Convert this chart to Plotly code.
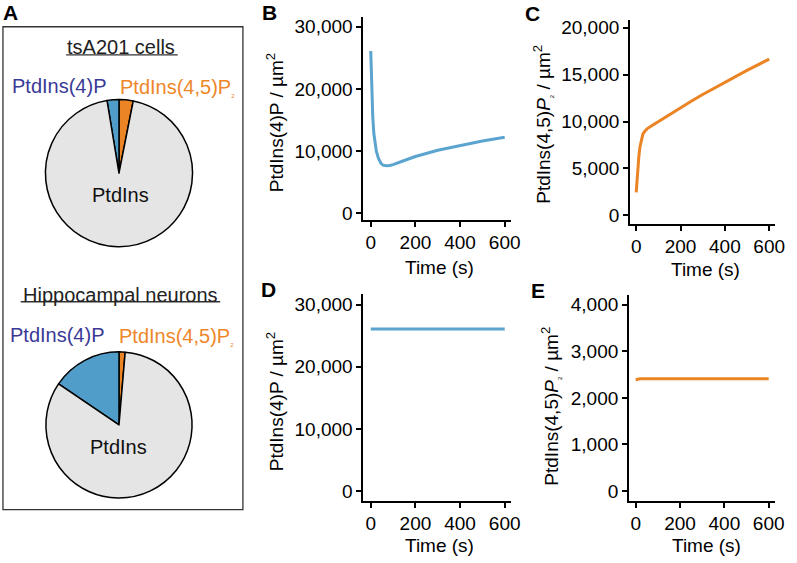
import plotly.graph_objects as go

W, H = 797, 563

# ---------------- data ----------------
pie_labels = ["PtdIns(4,5)P2", "PtdIns(4)P", "PtdIns"]
pie_tsa201 = [3.1, 2.6, 94.3]
pie_neurons = [1.35, 15.5, 83.15]

t_B = [0, 2, 5, 9, 14, 19, 25, 34, 45, 55, 70, 85, 100, 150, 200, 300, 400, 500, 600]
pi4p_tsa = [26100, 22500, 18500, 15500, 12800, 11200, 10000, 8900, 8100, 7750, 7650, 7700,
            7850, 8500, 9150, 10150, 10950, 11650, 12250]

t_C = [0, 3, 7.5, 12, 17, 22, 30, 40, 50, 70, 100, 150, 200, 250, 300, 400, 500, 600]
pip2_tsa = [2450, 3600, 4800, 6300, 7300, 8000, 8650, 9000, 9250, 9550, 10000, 10750,
            11480, 12190, 12880, 14200, 15450, 16650]

t_D = [0, 600]
pi4p_neu = [26100, 26100]

t_E = [0, 20, 600]
pip2_neu = [2390, 2410, 2410]

x_ticks = [0, 200, 400, 600]
yticks_B = [0, 10000, 20000, 30000]
yticks_C = [0, 5000, 10000, 15000, 20000]
yticks_D = [0, 10000, 20000, 30000]
yticks_E = [0, 1000, 2000, 3000, 4000]

BLUE = "#5AA4CF"
ORANGE = "#EB8424"
PIE_BLUE = "#519DC9"
PIE_GRAY = "#E5E5E5"
LBL_BLUE = "#3A3A96"
LBL_ORANGE = "#EE8729"
FONT = "Liberation Sans, Arial, Helvetica, sans-serif"


def fx(x):
    return x / W


def fy(y):
    return 1 - y / H


fig = go.Figure()

# ---------------- pies ----------------
for vals, (cx, cy, r) in [(pie_tsa201, (120.5, 173, 74.5)), (pie_neurons, (120.5, 427.5, 74))]:
    fig.add_trace(go.Pie(
        labels=pie_labels, values=vals, sort=False, direction="counterclockwise", rotation=0,
        textinfo="none", hoverinfo="label+percent",
        marker=dict(colors=[ORANGE, PIE_BLUE, PIE_GRAY], line=dict(color="black", width=1.5)),
        domain=dict(x=[fx(cx - r), fx(cx + r)], y=[fy(cy + r), fy(cy - r)]),
        showlegend=False,
    ))

# ---------------- line panels ----------------
panels = [
    ("", t_B, pi4p_tsa, BLUE, (368, 517), (15, 220), [-33, 626], [-1000, 31590], yticks_B),
    ("2", t_C, pip2_tsa, ORANGE, (638, 785), (18, 224), [-28, 627], [-875, 20843], yticks_C),
    ("3", t_D, pi4p_neu, BLUE, (368, 517), (295, 504), [-33, 626], [-1545, 31750], yticks_D),
    ("4", t_E, pip2_neu, ORANGE, (637, 785), (296, 504), [-30, 629], [-206, 4212], yticks_E),
]

layout_axes = {}
for name, t, v, col, xd, yd, xr, yr, yt in panels:
    fig.add_trace(go.Scatter(x=t, y=v, mode="lines", line=dict(color=col, width=3),
                             xaxis="x" + name, yaxis="y" + name, showlegend=False))
    common = dict(showline=True, linecolor="black", linewidth=1.8, ticks="outside",
                  ticklen=5, tickwidth=1.5, tickcolor="black", showgrid=False,
                  zeroline=False, tickfont=dict(family=FONT, size=19, color="black"))
    layout_axes["xaxis" + name] = dict(domain=[fx(xd[0]), fx(xd[1])], range=xr,
                                       tickvals=x_ticks, anchor="y" + name, **common)
    layout_axes["yaxis" + name] = dict(domain=[fy(yd[1]), fy(yd[0])], range=yr,
                                       tickvals=yt, tickformat=",d", anchor="x" + name,
                                       **common)

fig.update_layout(**layout_axes)

# ---------------- annotations ----------------
ann = []


def add_text(text, x, y, size=20, color="black", xanchor="center", yanchor="middle",
             angle=0, bold=False):
    ann.append(dict(text=("<b>%s</b>" % text) if bold else text, x=fx(x), y=fy(y),
                    xref="paper", yref="paper", showarrow=False, xanchor=xanchor,
                    yanchor=yanchor, textangle=angle,
                    font=dict(family=FONT, size=size, color=color)))


SUB2 = "<sub><span style='font-size:6px'>2</span></sub>"

# panel letters
for L, x, y in [("A", 11, 11), ("B", 273, 11), ("C", 539, 12), ("D", 272, 291), ("E", 545, 292)]:
    add_text(L, x, y, size=21, bold=True)

# pie section titles and labels
add_text("tsA201 cells", 123, 45, size=20, color="#222222")
add_text("Hippocampal neurons", 122, 296, size=20, color="#222222")
add_text("PtdIns(4)P", 10, 85, size=20, color=LBL_BLUE, xanchor="left")
add_text("PtdIns(4,5)P" + SUB2, 120, 86, size=20, color=LBL_ORANGE, xanchor="left")
add_text("PtdIns(4)P", 8, 337, size=20, color=LBL_BLUE, xanchor="left")
add_text("PtdIns(4,5)P" + SUB2, 118, 338, size=20, color=LBL_ORANGE, xanchor="left")
add_text("PtdIns", 122, 195, size=20, color="#111111")
add_text("PtdIns", 120, 450, size=20, color="#111111")

# axis titles
yt_pi4p = "PtdIns(4)P / µm<sup>2</sup>"
yt_pip2 = "PtdIns(4,5)<i>P</i>" + SUB2 + " / µm<sup>2</sup>"
add_text(yt_pi4p, 278, 122, size=19, angle=-90)
add_text(yt_pip2, 550, 124, size=19, angle=-90)
add_text(yt_pi4p, 278, 404, size=19, angle=-90)
add_text(yt_pip2, 558, 408, size=19, angle=-90)
for x, y in [(445, 268), (714, 270), (445, 549), (715, 549)]:
    add_text("Time (s)", x, y, size=19)

shapes = [
    dict(type="rect", xref="paper", yref="paper", x0=fx(3), x1=fx(246), y0=fy(513), y1=fy(25),
         line=dict(color="#333333", width=1.3)),
    dict(type="line", xref="paper", yref="paper", x0=fx(67), x1=fx(180), y0=fy(53.5), y1=fy(53.5),
         line=dict(color="#333333", width=1.3)),
    dict(type="line", xref="paper", yref="paper", x0=fx(21), x1=fx(223), y0=fy(303), y1=fy(303),
         line=dict(color="#333333", width=1.3)),
]

fig.update_layout(width=W, height=H, autosize=False, margin=dict(l=0, r=0, t=0, b=0),
                  paper_bgcolor="white", plot_bgcolor="white",
                  annotations=ann, shapes=shapes, showlegend=False,
                  font=dict(family=FONT, color="black"))

fig.write_html(
    "out.html",
    config={"responsive": False, "displayModeBar": False},
    post_script=("document.documentElement.style.margin='0';"
                 "document.documentElement.style.overflow='hidden';"
                 "document.body.style.margin='0';document.body.style.padding='0';"
                 "document.body.style.overflow='hidden';"),
)
